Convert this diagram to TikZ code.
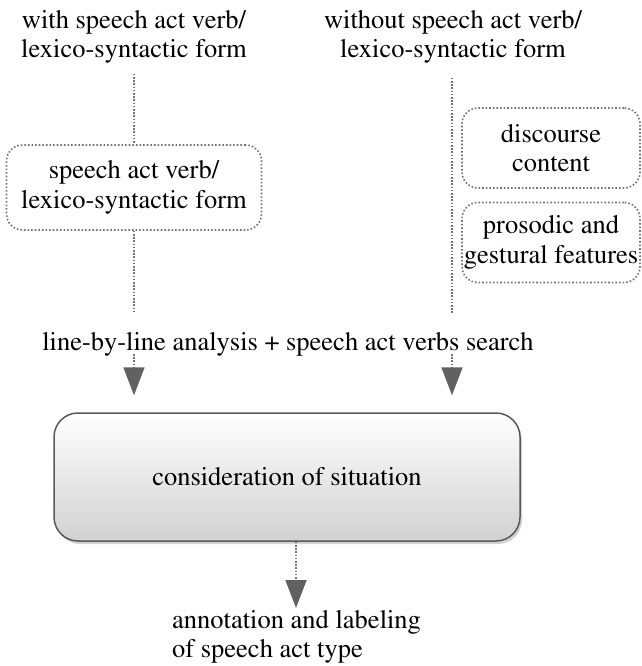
\documentclass[tikz,border=0pt]{standalone}
\usepackage[T1]{fontenc}
\renewcommand{\rmdefault}{ptm}
\usetikzlibrary{positioning,arrows.meta,shadows}

\begin{document}
\begin{tikzpicture}[x=1pt,y=-1pt,
    txt/.style={align=center,inner sep=0pt,font=\fontsize{26.5}{29.5}\selectfont},
    dotbox/.style={txt,draw=black!55,dotted,line width=1.6pt,rounded corners=16pt},
    dotline/.style={draw=black!55,line width=1.7pt,dash pattern=on 1.6pt off 1.6pt},
    tip/.style={dotline,-{Triangle[width=21pt,length=28pt,color=black!62,fill=black!62]},shorten >=17pt},
    sitbox/.style={txt,draw=black!65,line width=1.5pt,rounded corners=24pt,
        top color=white,bottom color=black!18,minimum width=466pt,minimum height=128pt,
        drop shadow={shadow xshift=2pt,shadow yshift=-3pt,opacity=0.35}}]
    \useasboundingbox (0,0) rectangle (641,666);
    % headings
    \node[txt] (withtxt) at (134,37) {with speech act verb/\\lexico-syntactic form};
    \node[txt] (wotxt) at (453,37) {without speech act verb/\\lexico-syntactic form};
    % dotted boxes
    \node[dotbox,minimum width=255pt,minimum height=85pt] (formbox) at (134,187.5) {speech act verb/\\lexico-syntactic form};
    \node[dotbox,minimum width=178pt,minimum height=80pt] (discbox) at (551,148) {discourse\\content};
    \node[dotbox,minimum width=178pt,minimum height=80pt] (prosbox) at (551,242.5) {prosodic and\\gestural features};
    % analysis step
    \node[txt] (search) at (288,344) {line-by-line analysis + speech act verbs search};
    \node[sitbox] (sit) at (287,477) {consideration of situation};
    \node[txt,align=left,anchor=west] (annot) at (172,637) {annotation and labeling\\of speech act type};
    \coordinate (lend) at (134,313);
    \coordinate (rend) at (452,313);
    \coordinate (lstart) at (134,354);
    \coordinate (rstart) at (452,354);
    \coordinate (btip) at (296,608);
    % connectors
    \draw[dotline,shorten <=10pt] (withtxt.south) -- (formbox.north);
    \draw[dotline] (formbox.south) -- (lend);
    \draw[dotline,shorten <=14pt] (wotxt.south -| rend) -- (rend);
    \draw[tip] (lstart) -- (lstart |- sit.north);
    \draw[tip] (rstart) -- (rstart |- sit.north);
    \draw[tip,shorten >=0pt] (sit.south -| btip) -- (btip);
\end{tikzpicture}
\end{document}
